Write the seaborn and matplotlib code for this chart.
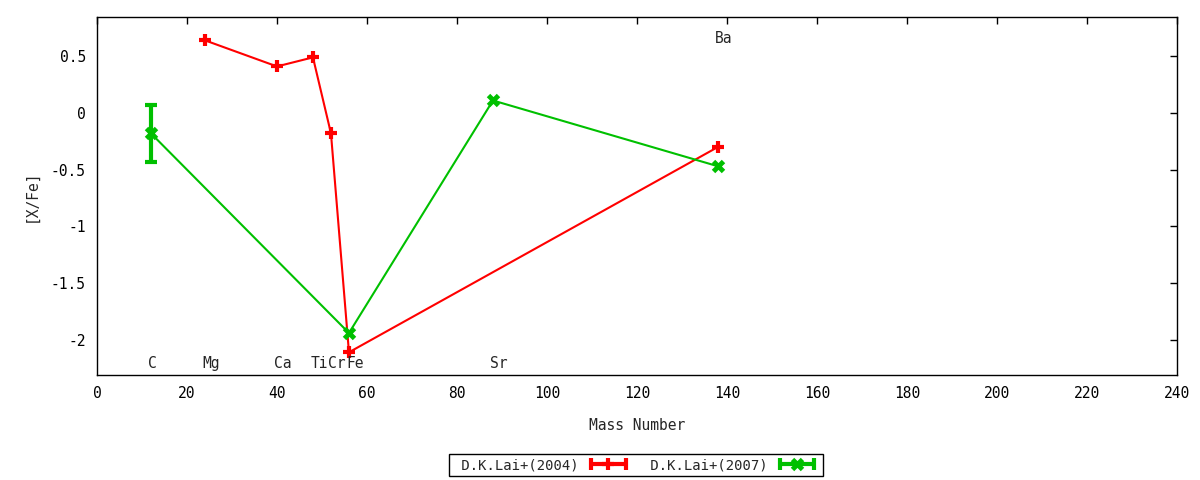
import numpy as np
import pandas as pd
import matplotlib
matplotlib.use("Agg")
import matplotlib.pyplot as plt
import seaborn as sns
from matplotlib.lines import Line2D
from matplotlib.legend_handler import HandlerLine2D, HandlerTuple
from matplotlib.ticker import FuncFormatter

sns.set_style("white")
plt.rcParams['font.family'] = ['DejaVu Sans Mono']
plt.rcParams['axes.unicode_minus'] = False
RED, GREEN = '#ff0000', '#00c000'

# ---- data ----
lai04_mass = [24, 40, 48, 52, 56, 138]
lai04_xfe = [0.64, 0.41, 0.49, -0.18, -2.11, -0.30]

lai07_mass = [12, 56, 88, 138]
lai07_xfe = [-0.18, -1.94, 0.11, -0.47]
lai07_err = [0.25, 0.0, 0.0, 0.0]

elements = ['C', 'Mg', 'Ca', 'Ti', 'Cr', 'Fe', 'Sr', 'Ba']
element_mass = [12, 24, 40, 48, 52, 56, 88, 138]
element_label_y = [-2.21, -2.21, -2.21, -2.21, -2.21, -2.21, -2.21, 0.66]

x_ticks = list(range(0, 241, 20))
y_ticks = [-2, -1.5, -1, -0.5, 0, 0.5]

df04 = pd.DataFrame({'mass': lai04_mass, 'xfe': lai04_xfe})
df07 = pd.DataFrame({'mass': lai07_mass, 'xfe': lai07_xfe, 'err': lai07_err})

fig = plt.figure(figsize=(12, 4.8), dpi=100)
ax = fig.add_axes([0.0808, 0.2188, 0.9, 0.7458])

sns.lineplot(data=df04, x='mass', y='xfe', sort=False, color=RED, lw=1.5,
             marker='+', markersize=9, markeredgewidth=3, markeredgecolor=RED, ax=ax)
sns.lineplot(data=df07, x='mass', y='xfe', sort=False, color=GREEN, lw=1.5,
             marker='x', markersize=7, markeredgewidth=3.5, markeredgecolor=GREEN, ax=ax)
has_err = df07['err'] > 0
ax.errorbar(df07.loc[has_err, 'mass'], df07.loc[has_err, 'xfe'], yerr=df07.loc[has_err, 'err'],
            fmt='none', ecolor=GREEN, elinewidth=3, capsize=4, capthick=3)

for name, m, yy in zip(elements, element_mass, element_label_y):
    ax.text(m - 0.6, yy, name, ha='left', va='center', fontsize=10.5)

ax.set_xlim(0, 240)
ax.set_ylim(-2.31, 0.846)
ax.set_xticks(x_ticks)
ax.set_yticks(y_ticks)
ax.yaxis.set_major_formatter(FuncFormatter(lambda v, p: f"{v:g}"))
ax.tick_params(direction='in', length=5, width=1, top=True, right=True,
               labelsize=10.5, colors='black', pad=8)
for s in ax.spines.values():
    s.set_color('black')
    s.set_linewidth(1)
ax.set_xlabel('Mass Number', fontsize=10.5, labelpad=12)
ax.set_ylabel('[X/Fe]', fontsize=10.5, labelpad=9)

# gnuplot-style key: label first, then line with end caps and the point
def key(color, marker, ms, mew):
    caps = Line2D([], [], color=color, lw=3, marker='|', markersize=9, markeredgewidth=3)
    pt = Line2D([], [], color=color, lw=0, marker=marker, markersize=ms, markeredgewidth=mew)
    return (caps, pt), {caps: HandlerLine2D(numpoints=2), pt: HandlerLine2D(numpoints=1)}

h1, m1 = key(RED, '+', 9, 3)
h2, m2 = key(GREEN, 'x', 7, 3.5)
hmap = {tuple: HandlerTuple(ndivide=1, pad=0)}
hmap.update(m1)
hmap.update(m2)
leg = fig.legend([h1, h2], [' D.K.Lai+(2004)', ' D.K.Lai+(2007)'], loc='center',
                 bbox_to_anchor=(0.53, 0.031), ncol=2, markerfirst=False, fancybox=False,
                 framealpha=1, edgecolor='black', fontsize=10, handlelength=3.1,
                 columnspacing=0.9, handletextpad=0.55, borderpad=0.3, handler_map=hmap)
leg.get_frame().set_linewidth(1)

plt.savefig('out.png', dpi=100)
